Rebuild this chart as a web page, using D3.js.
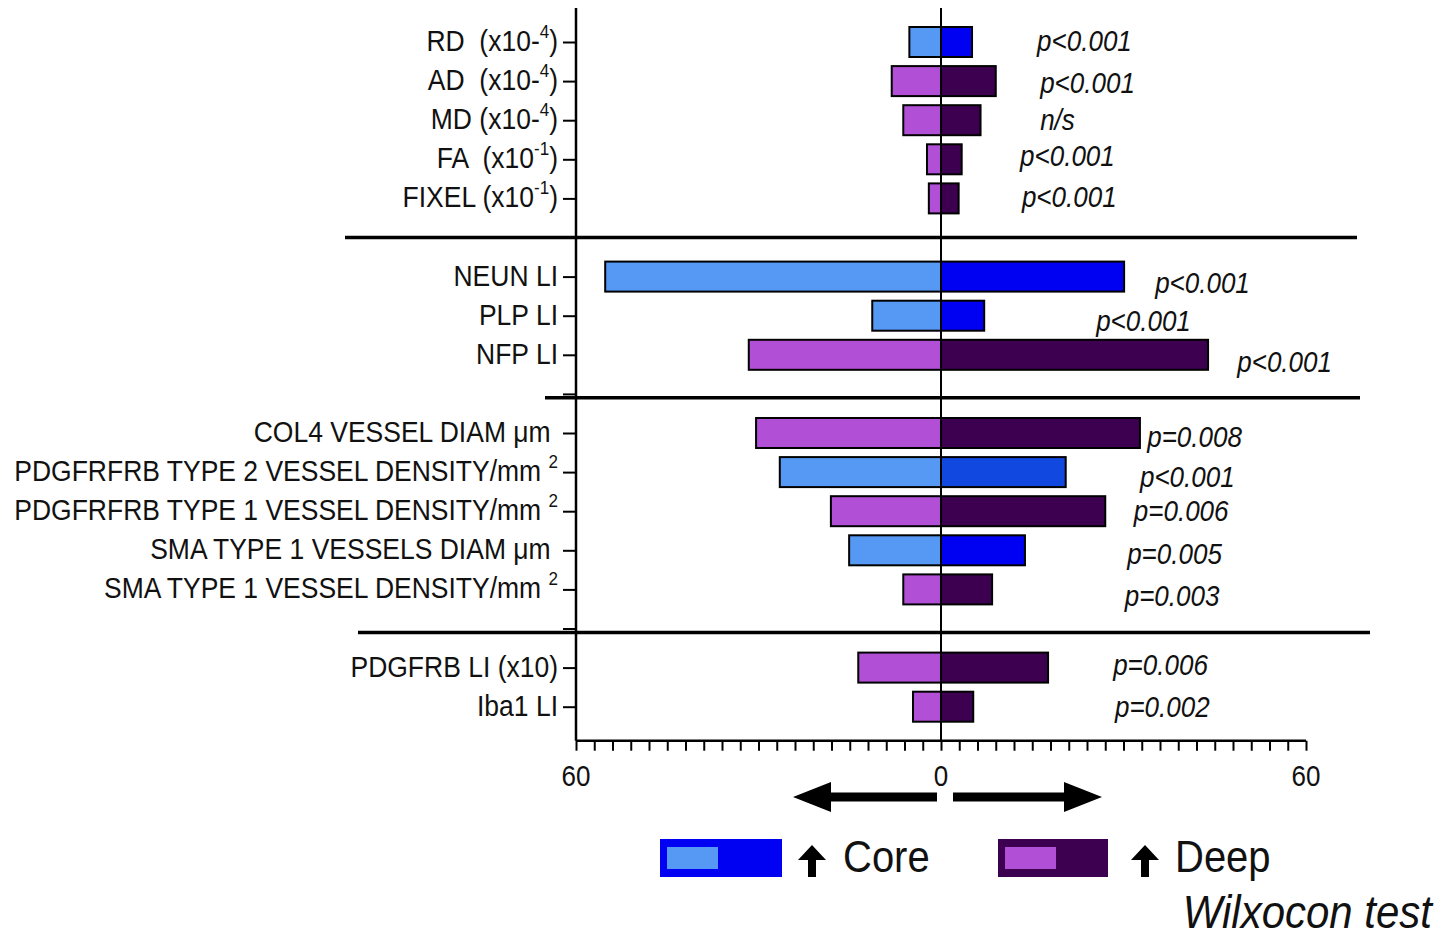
<!DOCTYPE html>
<html>
<head>
<meta charset="utf-8">
<script src="https://cdn.jsdelivr.net/npm/d3@7"></script>
<style>
  body { margin: 0; background: #fff; }
  text { font-family: "Liberation Sans", Arial, sans-serif; white-space: pre; }
</style>
</head>
<body>
<svg id="mysvg" width="1451" height="937"></svg>
<script>
// rows of the chart (row index leaves gaps between the groups)
var labels = ["RD  (x10-", "AD  (x10-", "MD (x10-", "FA  (x10", "FIXEL (x10",
  "NEUN LI", "PLP LI", "NFP LI",
  "COL4 VESSEL DIAM \u03bcm ", "PDGFRFRB TYPE 2 VESSEL DENSITY/mm ", "PDGFRFRB TYPE 1 VESSEL DENSITY/mm ",
  "SMA TYPE 1 VESSELS DIAM \u03bcm ", "SMA TYPE 1 VESSEL DENSITY/mm ",
  "PDGFRB LI (x10)", "Iba1 LI"];
var sups = ["4", "4", "4", "-1", "-1", "", "", "", "", "2", "2", "", "2", "", ""];
var tails = [")", ")", ")", ")", ")", "", "", "", "", "", "", "", "", "", ""];
var rows = [0, 1, 2, 3, 4, 6, 7, 8, 10, 11, 12, 13, 14, 16, 17];
var emptyRows = [9, 15];
var leftVals = [5.2, 8.1, 6.2, 2.3, 2.0, 55.2, 11.3, 31.6, 30.4, 26.5, 18.1, 15.1, 6.2, 13.6, 4.6];
var rightVals = [5.1, 9.0, 6.5, 3.4, 2.9, 30.1, 7.1, 43.9, 32.7, 20.5, 27.0, 13.8, 8.4, 17.6, 5.3];
var higher = ["core", "deep", "deep", "deep", "deep", "core", "core", "deep",
  "deep", "core2", "deep", "core", "deep", "deep", "deep"];
var pvals = ["p<0.001", "p<0.001", "n/s", "p<0.001", "p<0.001", "p<0.001", "p<0.001", "p<0.001",
  "p=0.008", "p<0.001", "p=0.006", "p=0.005", "p=0.003", "p=0.006", "p=0.002"];
// where each p-value sits: x in axis units, small vertical shift in px
var pX = [15.8, 16.3, 16.3, 13.0, 13.3, 35.2, 25.5, 48.7, 33.9, 32.7, 31.7, 30.6, 30.2, 28.3, 28.6];
var pDy = [0, 3, 1, -2, 0, 7, 6, 8, 5, 6, 1, 5, 8, -2, 1];
var tickLabels = ["60", "0", "60"];

var lightCol = { core: "#5599f5", core2: "#5599f5", deep: "#b150d6" };
var darkCol = { core: "#0000f2", core2: "#1048e0", deep: "#3d0050" };

var svg = d3.select("#mysvg");
var x = d3.scaleLinear().domain([-60, 60]).range([576, 1306]);
var y = d3.scaleLinear().domain([0, 17]).range([42, 706.7]);
var barH = 30;

// text in the figure is a bit taller than it is wide
function addText(px, py, size){
  return svg.append("text")
    .attr("transform", "translate(" + px + "," + py + ") scale(1,1.1)")
    .attr("font-size", size).attr("fill", "#111");
}

// separator lines between groups
var seps = [[5, 345, 1357], [9.1, 545, 1360], [15.1, 358, 1370]];
svg.selectAll(".sep").data(seps).enter().append("line")
  .attr("x1", function(d){ return d[1]; })
  .attr("x2", function(d){ return d[2]; })
  .attr("y1", function(d){ return y(d[0]); })
  .attr("y2", function(d){ return y(d[0]); })
  .attr("stroke", "#000").attr("stroke-width", 3.5);

// bars
var g = svg.append("g");
rows.forEach(function(r, i){
  g.append("rect")
    .attr("x", x(-leftVals[i])).attr("y", y(r) - barH / 2)
    .attr("width", x(0) - x(-leftVals[i])).attr("height", barH)
    .attr("fill", lightCol[higher[i]]).attr("stroke", "#000").attr("stroke-width", 2);
  g.append("rect")
    .attr("x", x(0)).attr("y", y(r) - barH / 2)
    .attr("width", x(rightVals[i]) - x(0)).attr("height", barH)
    .attr("fill", darkCol[higher[i]]).attr("stroke", "#000").attr("stroke-width", 2);
});

// zero line
svg.append("line")
  .attr("x1", x(0)).attr("x2", x(0))
  .attr("y1", y(-0.87)).attr("y2", y(17.87))
  .attr("stroke", "#000").attr("stroke-width", 2);

// y axis
var yAxis = d3.axisLeft(y).tickValues(rows.concat(emptyRows)).tickSize(13).tickFormat("");
var ya = svg.append("g").attr("transform", "translate(" + x(-60) + ",0)").call(yAxis);
ya.select(".domain").remove();
ya.selectAll(".tick line").attr("stroke-width", 2);
ya.append("line").attr("x1", 0).attr("x2", 0)
  .attr("y1", y(-0.87)).attr("y2", y(17.87))
  .attr("stroke", "#000").attr("stroke-width", 2.5);

rows.forEach(function(r, i){
  var t = addText(x(-60) - 18, y(r) + 9, 26.5).attr("text-anchor", "end");
  t.append("tspan").text(labels[i]);
  if (sups[i]) t.append("tspan").attr("font-size", 17).attr("dy", -12).text(sups[i]);
  if (tails[i]) t.append("tspan").attr("dy", sups[i] ? 12 : 0).text(tails[i]);
});

// x axis
var xa = svg.append("g").attr("transform", "translate(0," + y(17.87) + ")")
  .call(d3.axisBottom(x).tickValues(d3.range(-60, 61, 3)).tickSize(10).tickFormat(""));
xa.select(".domain").attr("stroke-width", 2.5).attr("d", "M" + x(-60) + ",0H" + x(60));
xa.selectAll(".tick line").attr("stroke-width", 2);
[-60, 0, 60].forEach(function(v, i){
  addText(x(v), 786, 26).attr("text-anchor", "middle").text(tickLabels[i]);
});

// p-values
rows.forEach(function(r, i){
  addText(x(pX[i]), y(r) + pDy[i] + 9, 26).attr("font-style", "italic").text(pvals[i]);
});

// direction arrows
function arrow(x0, x1){
  var dir = x1 > x0 ? 1 : -1, hx = x1 - dir * 38, cy = 797;
  svg.append("path")
    .attr("d", "M" + x0 + "," + (cy - 4.5) + " L" + hx + "," + (cy - 4.5) + " L" + hx + "," + (cy - 15) +
      " L" + x1 + "," + cy + " L" + hx + "," + (cy + 15) + " L" + hx + "," + (cy + 4.5) +
      " L" + x0 + "," + (cy + 4.5) + " z")
    .attr("fill", "#000");
}
arrow(937, 793);
arrow(953, 1102);

// legend
var legend = [["core", 660, 122, "Core", 797, 843], ["deep", 998, 110, "Deep", 1130, 1175]];
legend.forEach(function(d){
  svg.append("rect").attr("x", d[1]).attr("y", 839).attr("width", d[2]).attr("height", 38)
    .attr("fill", darkCol[d[0]]);
  svg.append("rect").attr("x", d[1] + 7).attr("y", 847).attr("width", 51).attr("height", 22)
    .attr("fill", lightCol[d[0]]);
  svg.append("path")
    .attr("d", "M" + (d[4] + 15) + ",845 L" + (d[4] + 29) + ",860 L" + (d[4] + 19) + ",860 L" + (d[4] + 19) +
      ",877 L" + (d[4] + 11) + ",877 L" + (d[4] + 11) + ",860 L" + (d[4] + 1) + ",860 z")
    .attr("fill", "#000");
  addText(d[5], 872, 40).text(d[3]);
});

addText(1432, 928, 42).attr("text-anchor", "end").attr("font-style", "italic").text("Wilxocon test");
</script>
</body>
</html>
